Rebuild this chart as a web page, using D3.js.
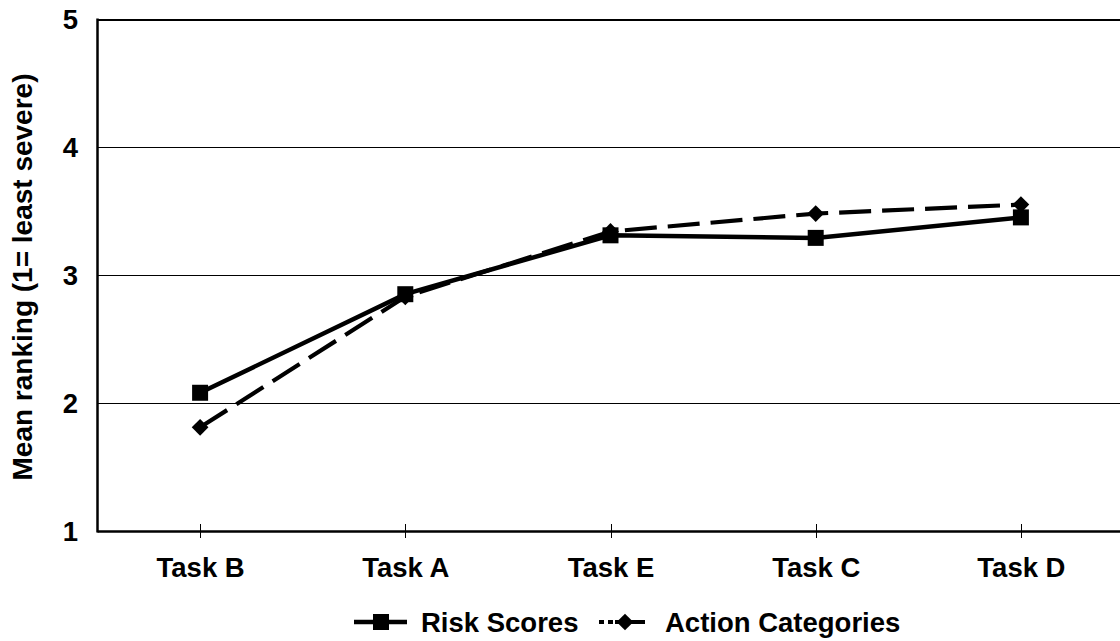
<!DOCTYPE html>
<html>
<head>
<meta charset="utf-8">
<script src="https://cdn.jsdelivr.net/npm/d3@7"></script>
<style>
  html, body { margin: 0; padding: 0; background: #fff; }
  text { font-family: "Liberation Sans", Arial, sans-serif; font-weight: bold; fill: #000; }
</style>
</head>
<body>
<svg id="chart" width="1120" height="641"></svg>
<script>
const categories = ["Task B", "Task A", "Task E", "Task C", "Task D"];
const riskScores = [2.08, 2.85, 3.31, 3.29, 3.45];
const actionCategories = [1.81, 2.83, 3.34, 3.48, 3.55];
const yTicks = [1, 2, 3, 4, 5];
const yTitle = "Mean ranking (1= least severe)";
const seriesNames = ["Risk Scores", "Action Categories"];

(function () {
const svg = d3.select("#chart");
const W = 1120;
const pLeft = 97.5, pRight = 1123.5, pTop = 19, pBottom = 531;
const FS = "27.5px";

const x = d3.scalePoint().domain(categories).range([pLeft, pRight]).padding(0.5);
const y = d3.scaleLinear().domain([1, 5]).range([pBottom, pTop]);

// gridlines
svg.append("g").selectAll("line").data(yTicks.filter(d => d > 1)).join("line")
  .attr("x1", pLeft).attr("x2", W)
  .attr("y1", d => y(d) + 0.5).attr("y2", d => y(d) + 0.5)
  .attr("stroke", "#000").attr("stroke-width", d => d === 5 ? 2 : 1)
  .attr("shape-rendering", "crispEdges");

// y tick labels
svg.append("g").selectAll("text").data(yTicks).join("text")
  .attr("x", 78).attr("y", d => y(d))
  .attr("text-anchor", "end").attr("dominant-baseline", "central")
  .style("font-size", FS)
  .text(d => d);

// y title
svg.append("text")
  .attr("transform", `translate(32,${(pTop + pBottom) / 2 + 2}) rotate(-90)`)
  .attr("text-anchor", "middle")
  .style("font-size", "28px")
  .text(yTitle);

// x axis
const xAxis = d3.axisBottom(x).tickSize(0).tickSizeOuter(0).tickPadding(0);
const gx = svg.append("g").attr("transform", `translate(0,${pBottom})`).call(xAxis);
gx.select(".domain").remove();
gx.selectAll(".tick text").remove();
gx.selectAll(".tick").append("line").attr("y1", -7).attr("y2", 7)
  .attr("stroke", "#000").attr("stroke-width", 1).attr("shape-rendering", "crispEdges");
gx.selectAll(".tick").append("text")
  .attr("y", 46).attr("text-anchor", "middle")
  .style("font-size", FS)
  .text(d => d);

// axis lines
svg.append("line").attr("x1", pLeft).attr("x2", W).attr("y1", pBottom + 0.5).attr("y2", pBottom + 0.5)
  .attr("stroke", "#000").attr("stroke-width", 2.5);
svg.append("line").attr("x1", pLeft).attr("x2", pLeft).attr("y1", pTop - 0.5).attr("y2", pBottom + 1.5)
  .attr("stroke", "#000").attr("stroke-width", 2.5);

const line = d3.line().x((d, i) => x(categories[i])).y(d => y(d));

// Action Categories (dashed, diamonds)
svg.append("path").datum(actionCategories).attr("d", line)
  .attr("fill", "none").attr("stroke", "#000").attr("stroke-width", 4.2)
  .attr("stroke-dasharray", "32,11");
svg.append("g").selectAll("path").data(actionCategories).join("path")
  .attr("d", d3.symbol().type(d3.symbolSquare).size(140))
  .attr("transform", (d, i) => `translate(${x(categories[i])},${y(d)}) rotate(45)`)
  .attr("fill", "#000");

// Risk Scores (solid, squares)
svg.append("path").datum(riskScores).attr("d", line)
  .attr("fill", "none").attr("stroke", "#000").attr("stroke-width", 4.5);
svg.append("g").selectAll("path").data(riskScores).join("path")
  .attr("transform", (d, i) => `translate(${x(categories[i])},${y(d)})`)
  .attr("d", d3.symbol().type(d3.symbolSquare).size(256))
  .attr("fill", "#000");

// legend
const ly = 622;
const lg = svg.append("g");
lg.append("line").attr("x1", 354).attr("x2", 407).attr("y1", ly).attr("y2", ly)
  .attr("stroke", "#000").attr("stroke-width", 4.5);
lg.append("path").attr("transform", `translate(381,${ly})`)
  .attr("d", d3.symbol().type(d3.symbolSquare).size(256)).attr("fill", "#000");
lg.append("text").attr("x", 421).attr("y", ly).attr("dominant-baseline", "central")
  .style("font-size", FS).text(seriesNames[0]);

lg.append("line").attr("x1", 599).attr("x2", 645).attr("y1", ly).attr("y2", ly)
  .attr("stroke", "#000").attr("stroke-width", 4.2).attr("stroke-dasharray", "5,4,5,2,40");
lg.append("path").attr("transform", `translate(625,${ly}) rotate(45)`)
  .attr("d", d3.symbol().type(d3.symbolSquare).size(140)).attr("fill", "#000");
lg.append("text").attr("x", 665).attr("y", ly).attr("dominant-baseline", "central")
  .style("font-size", FS).text(seriesNames[1]);
})();
</script>
</body>
</html>
